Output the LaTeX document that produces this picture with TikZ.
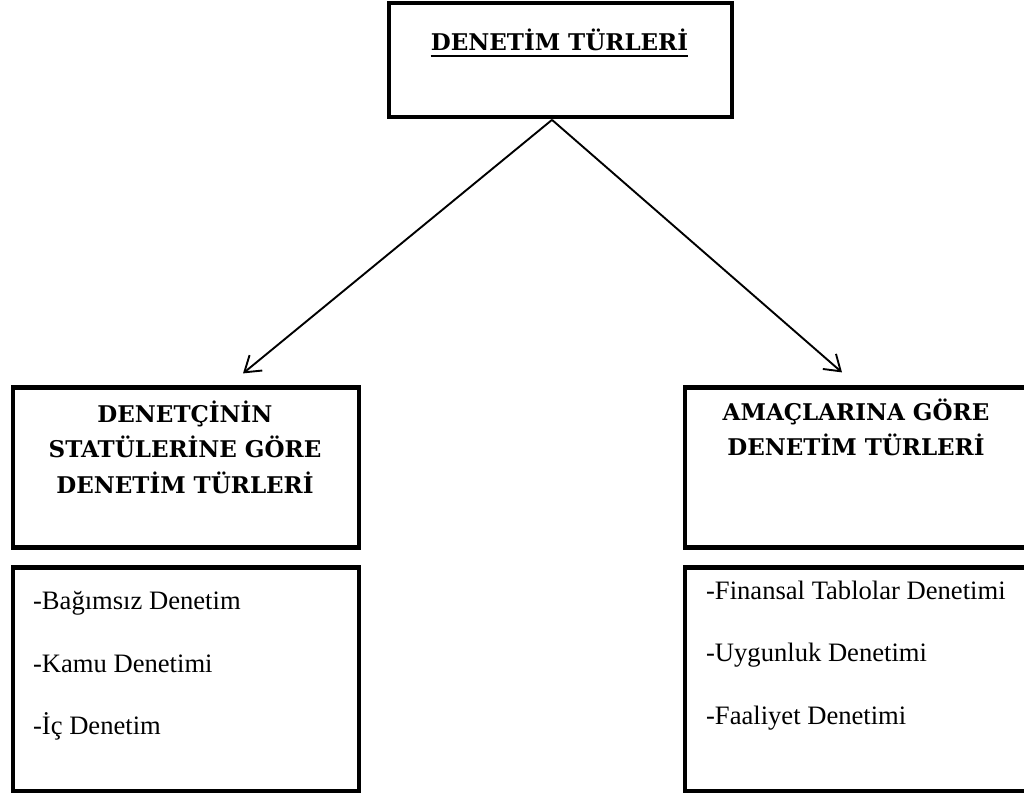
\documentclass[tikz,border=0pt]{standalone}
\usepackage{fontspec}
\setmainfont{Liberation Serif}
\newfontfamily\headfont{DejaVu Serif}
\usetikzlibrary{arrows.meta,calc}

\begin{document}
\begin{tikzpicture}[x=1pt,y=-1pt,
  frame/.style={draw=black, line width=4.2pt, inner sep=0pt, minimum width=346pt},
  headtext/.style={font=\headfont\bfseries\fontsize{23}{27}\selectfont, inner sep=0pt, anchor=base},
  itemtext/.style={font=\fontsize{26.6}{30}\selectfont, inner sep=0pt, anchor=base west},
  link/.style={line width=1.9pt, -{Straight Barb[length=15pt,width=20pt,line width=1.9pt]}}]

  \useasboundingbox (0,0) rectangle (1024,795);
  \clip (0,0) rectangle (1024,795);

  % boxes
  \node[frame, minimum width=343pt, minimum height=114.5pt] (top) at (560.5,60) {};
  \node[frame, minimum height=160pt] (lh) at (186,467.5) {};
  \node[frame, minimum height=223.5pt] (ll) at (186,679.25) {};
  \node[frame, minimum height=160pt] (rh) at (858,467.5) {};
  \node[frame, minimum height=223.5pt] (rl) at (858,679.25) {};

  % title
  \node[headtext] (title) at ($(top.north)+(-1,50)$) {DENETİM TÜRLERİ};
  \draw[line width=2.2pt] ($(title.base west)+(0,5)$) -- ($(title.base east)+(0,5)$);

  % left header
  \node[headtext] (lh1) at ($(lh.north)+(-1,37.5)$) {DENETÇİNİN};
  \node[headtext] (lh2) at ($(lh.north)+(-1,72.5)$) {STATÜLERİNE GÖRE};
  \node[headtext] (lh3) at ($(lh.north)+(-1,108.5)$) {DENETİM TÜRLERİ};

  % right header
  \node[headtext] (rh1) at ($(rh.north)+(-2,35.5)$) {AMAÇLARINA GÖRE};
  \node[headtext] (rh2) at ($(rh.north)+(-2,70.5)$) {DENETİM TÜRLERİ};

  % left list
  \node[itemtext] (l1) at ($(ll.north west)+(22,44.5)$) {-Bağımsız Denetim};
  \node[itemtext] (l2) at ($(ll.north west)+(22,107.5)$) {-Kamu Denetimi};
  \node[itemtext] (l3) at ($(ll.north west)+(22,169.5)$) {-İç Denetim};

  % right list
  \node[itemtext] (r1) at ($(rl.north west)+(23,34.5)$) {-Finansal Tablolar Denetimi};
  \node[itemtext] (r2) at ($(rl.north west)+(23,96.5)$) {-Uygunluk Denetimi};
  \node[itemtext] (r3) at ($(rl.north west)+(23,159.5)$) {-Faaliyet Denetimi};

  % connectors
  \coordinate (apex) at ($(top.south)+(-8.5,0.5)$);
  \coordinate (ltip) at ($(lh.north)+(57,-12)$);
  \coordinate (rtip) at ($(rh.north)+(-16,-13)$);
  \draw[link] (apex) -- (ltip);
  \draw[link] (apex) -- (rtip);
\end{tikzpicture}
\end{document}
